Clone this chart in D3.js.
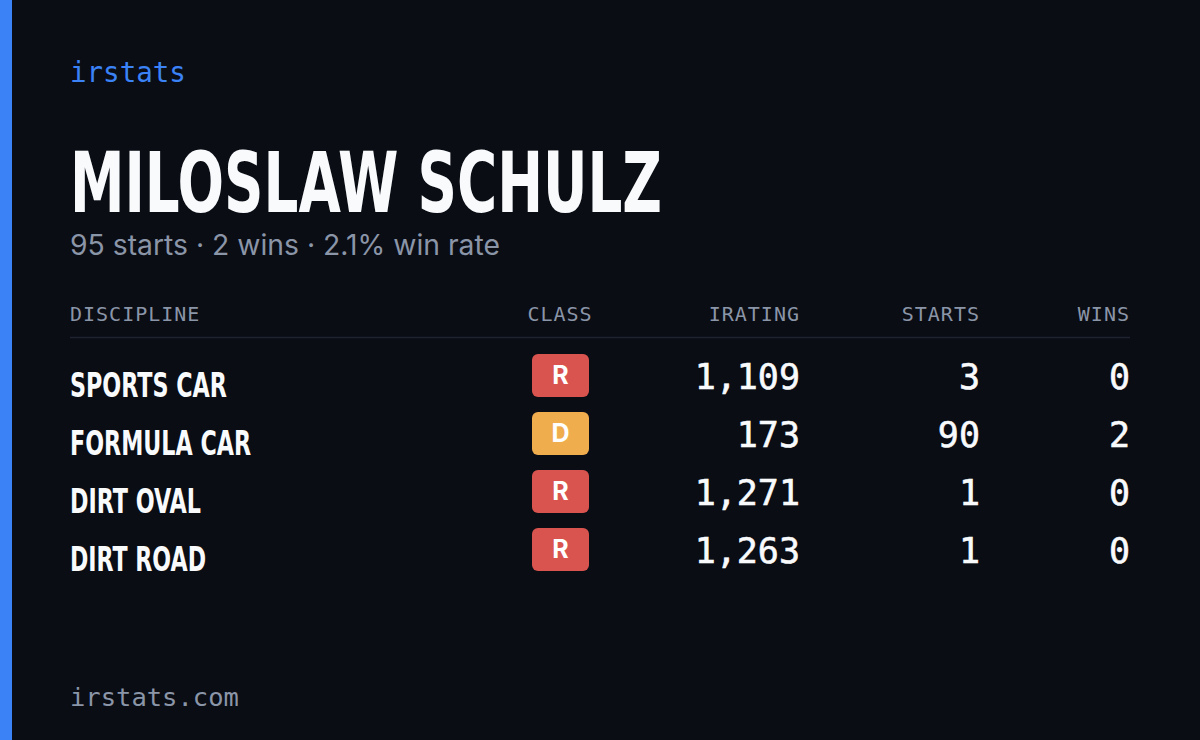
<!DOCTYPE html>
<html><head><meta charset="utf-8">
<script src="https://cdn.jsdelivr.net/npm/d3@7"></script>
<style>body{margin:0;background:#0a0d14}</style>
</head><body>
<script>
// data
const disciplines = ["SPORTS CAR", "FORMULA CAR", "DIRT OVAL", "DIRT ROAD"];
const classes = ["R", "D", "R", "R"];
const iratings = [1109, 173, 1271, 1263];
const starts = [3, 90, 1, 1];
const wins = [0, 2, 0, 0];
const headers = ["DISCIPLINE", "CLASS", "IRATING", "STARTS", "WINS"];
const classColor = {R: "#d9534f", D: "#f0ad4e"};

const W = 1200, H = 740;
const mono = "'DejaVu Sans Mono', 'Liberation Mono', monospace";
const cond = "'DejaVu Sans Condensed', 'DejaVu Sans', sans-serif";

const svg = d3.select("body").append("svg").attr("width", W).attr("height", H);
svg.append("rect").attr("width", W).attr("height", H).attr("fill", "#0a0d14");
svg.append("rect").attr("width", 12).attr("height", H).attr("fill", "#3b82f6");

svg.append("text").attr("x", 70).attr("y", 82).text("irstats")
  .attr("font-family", mono).attr("font-size", 27.5).attr("fill", "#3b82f6");

// condensed look: squeeze glyphs to the reference width
svg.append("text").attr("x", 70).attr("y", 212).text("MILOSLAW SCHULZ")
  .attr("font-family", cond).attr("font-weight", "bold").attr("font-size", 84)
  .attr("textLength", 592).attr("lengthAdjust", "spacingAndGlyphs")
  .attr("fill", "#f8fafc");

const totalStarts = d3.sum(starts), totalWins = d3.sum(wins);
svg.append("text").attr("x", 70).attr("y", 255)
  .text(`${totalStarts} starts · ${totalWins} wins · ${(totalWins / totalStarts * 100).toFixed(1)}% win rate`)
  .attr("textLength", 430).attr("lengthAdjust", "spacingAndGlyphs")
  .attr("font-family", "Inter, sans-serif").attr("font-size", 28).attr("fill", "#8b95a8");

const cols = [
  {x: 70, anchor: "start"},
  {x: 560, anchor: "middle"},
  {x: 800, anchor: "end"},
  {x: 980, anchor: "end"},
  {x: 1130, anchor: "end"}
];
svg.selectAll("text.hdr").data(headers).join("text").attr("class", "hdr")
  .attr("x", (d, i) => cols[i].x).attr("y", 321).attr("text-anchor", (d, i) => cols[i].anchor)
  .attr("font-family", mono).attr("font-size", 20).attr("letter-spacing", 1)
  .attr("fill", "#8b95a8").text(d => d);
svg.append("line").attr("x1", 70).attr("x2", 1130).attr("y1", 337.5).attr("y2", 337.5)
  .attr("stroke", "#1e2330").attr("stroke-width", 1.5);

const nameWidths = [157, 181, 131, 136];
const y = d3.scaleBand().domain(d3.range(disciplines.length)).range([346, 578]);
const fmt = d3.format(",");
const rows = svg.selectAll("g.row").data(disciplines).join("g").attr("class", "row")
  .attr("transform", (d, i) => `translate(0,${y(i) + y.bandwidth() / 2})`);

rows.append("text").attr("x", 70).attr("y", 22).text(d => d)
  .attr("font-family", cond).attr("font-weight", "bold").attr("font-size", 33)
  .attr("textLength", (d, i) => nameWidths[i]).attr("lengthAdjust", "spacingAndGlyphs")
  .attr("fill", "#f8fafc");
rows.append("rect").attr("x", 532).attr("y", -21).attr("width", 57).attr("height", 43).attr("rx", 6)
  .attr("fill", (d, i) => classColor[classes[i]]);
rows.append("text").attr("x", 560.5).attr("y", 9).attr("text-anchor", "middle")
  .text((d, i) => classes[i]).attr("font-family", "Inter, sans-serif").attr("font-weight", "bold")
  .attr("font-size", 25).attr("fill", "#fff");
[[iratings, 2, fmt], [starts, 3, String], [wins, 4, String]].forEach(([arr, c, f]) => {
  rows.append("text").attr("x", cols[c].x).attr("y", 14).attr("text-anchor", "end")
    .text((d, i) => f(arr[i])).attr("font-family", mono).attr("font-size", 35)
    .attr("stroke", "#f8fafc").attr("stroke-width", 0.6)
    .attr("fill", "#f8fafc");
});

svg.append("text").attr("x", 70).attr("y", 706).text("irstats.com")
  .attr("font-family", mono).attr("font-size", 25.5).attr("fill", "#8b95a8");
</script>
</body></html>
